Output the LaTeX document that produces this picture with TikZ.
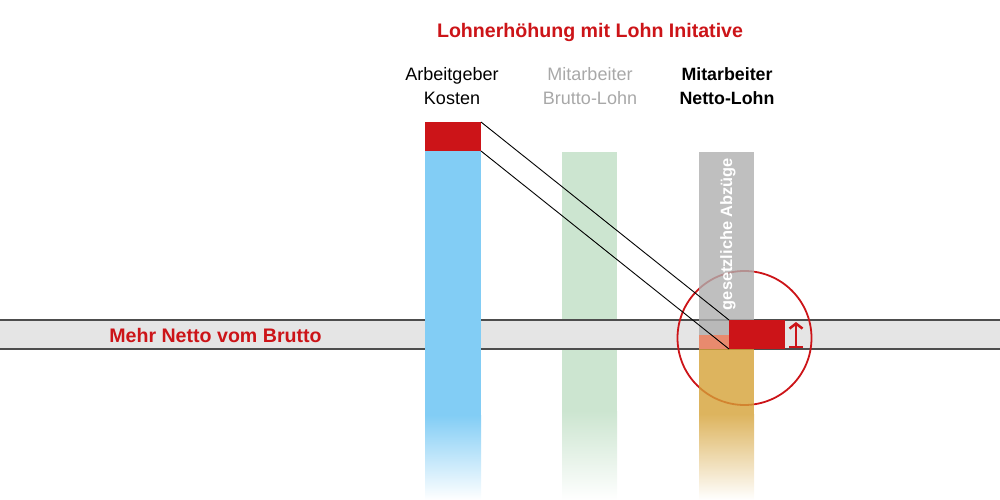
\documentclass[tikz,border=0pt]{standalone}
\usepackage{fontspec}
\setmainfont{Liberation Sans}
\usetikzlibrary{arrows.meta}
\definecolor{lohnred}{HTML}{CC1418}
\definecolor{costblue}{HTML}{82CDF5}
\definecolor{bruttogreen}{HTML}{CCE5D0}
\definecolor{taxgray}{HTML}{AFAFAF}
\definecolor{nettogold}{HTML}{D4A136}
\definecolor{goldfade}{HTML}{DDB45E}
\definecolor{plussalmon}{HTML}{E88A6E}
\definecolor{bandfill}{HTML}{E5E5E5}
\definecolor{bandline}{HTML}{4D4D4D}
\definecolor{softgray}{HTML}{A8A8A8}
\begin{document}
\begin{tikzpicture}[x=1pt,y=-1pt,
  box/.style={inner sep=0,outer sep=0,minimum width=56pt,minimum height=29pt,anchor=north west,fill=lohnred},
  head/.style={align=center,inner sep=0,anchor=north,font=\fontsize{18}{24}\selectfont},
  link/.style={black,line width=0.9pt}]
\useasboundingbox (0,0) rectangle (1000,500);
% brutto bar, under the band
\fill[bruttogreen] (562,152) rectangle (617,412);
\shade[top color=bruttogreen,bottom color=white] (562,411) rectangle (617,500);
% band
\fill[bandfill] (0,320) rectangle (1000,349);
\draw[bandline,line width=2pt] (0,320) -- (1000,320) (0,349) -- (1000,349);
\node[draw=lohnred,line width=1.8pt,circle,minimum size=134pt,inner sep=0] (lens) at (744.5,338) {};
% netto column
\begin{scope}[fill opacity=0.8]
\fill[taxgray] (699,152) rectangle (754,335);
\fill[nettogold] (699,349) rectangle (754,415);
\end{scope}
\fill[plussalmon] (699,335) rectangle (729,349);
\shade[top color=goldfade,bottom color=white] (699,414) rectangle (754,500);
\node[rotate=90,anchor=base,text=white,font=\fontsize{16.4}{20}\selectfont\bfseries] (abzug) at (732,234) {gesetzliche Abzüge};
% cost bar
\fill[costblue] (425,150) rectangle (481,416);
\shade[top color=costblue,bottom color=white] (425,415) rectangle (481,500);
\node[box] (cost) at (425,122) {};
\node[box] (gain) at (729,320) {};
\draw[link] (cost.north east) -- (gain.north west);
\draw[link] (cost.south east) -- (gain.south west);
\coordinate (rise0) at (796,348);
\coordinate (rise1) at (796,322);
\draw[lohnred,line width=2.5pt,{Bar[width=14pt]}-{Straight Barb[length=5pt,width=13pt]}] (rise0) -- (rise1);
% texts
\node[anchor=base,text=lohnred,font=\fontsize{19.6}{24}\selectfont\bfseries] (title) at (590,38) {Lohnerhöhung mit Lohn Initative};
\node[head] (costlabel) at (452,67.5) {Arbeitgeber\\Kosten};
\node[head,text=softgray] (bruttolabel) at (590,67.5) {Mitarbeiter\\Brutto-Lohn};
\node[head,font=\fontsize{17.8}{24}\selectfont\bfseries] (nettolabel) at (727,67.5) {Mitarbeiter\\Netto-Lohn};
\node[anchor=base,text=lohnred,font=\fontsize{19.6}{24}\selectfont\bfseries] (band) at (215.5,342) {Mehr Netto vom Brutto};
\end{tikzpicture}
\end{document}
